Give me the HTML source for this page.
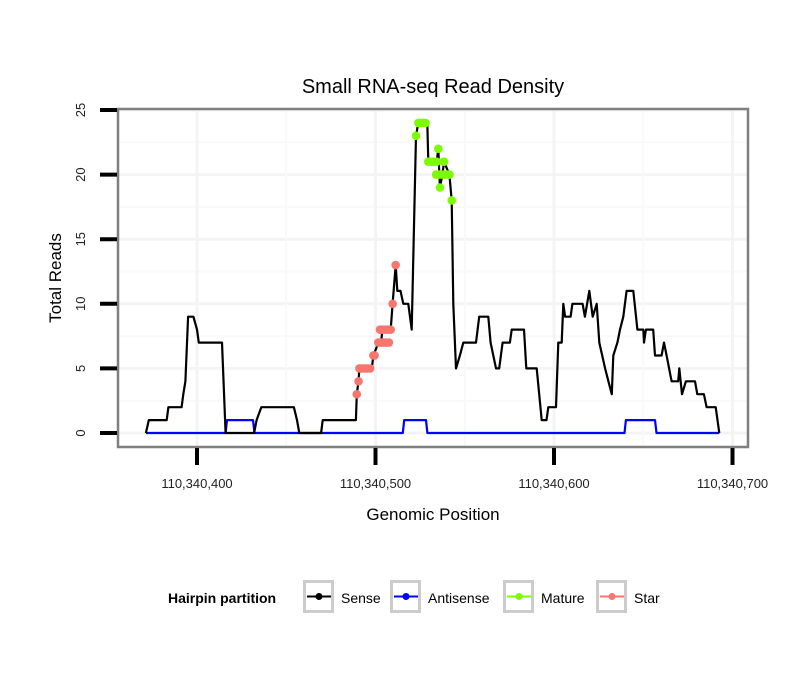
<!DOCTYPE html>
<html><head><meta charset="utf-8"><style>
body{margin:0;background:#fff;}
svg text{font-family:"Liberation Sans",Arial,sans-serif;}
</style></head><body>
<svg id="chart" width="810" height="690" xmlns="http://www.w3.org/2000/svg">
<rect width="810" height="690" fill="#fff"/>
<text x="433" y="93" font-size="20" text-anchor="middle">Small RNA-seq Read Density</text>
<g id="grid"></g>
<g id="series"></g>
<rect x="118" y="109" width="630" height="338" fill="none" stroke="#7f7f7f" stroke-width="2.5"/>
<g id="axes"></g>
<text transform="translate(61,278) rotate(-90)" font-size="17" text-anchor="middle">Total Reads</text>
<text x="433" y="520" font-size="17" text-anchor="middle">Genomic Position</text>
<g id="legend"></g>
</svg>
<script>
const xTicks=[110340400,110340500,110340600,110340700];
const xTickLabels=["110,340,400","110,340,500","110,340,600","110,340,700"];
const yTicks=[0,5,10,15,20,25];
const base=110340000;
const sensePos=[371.4,373,383,384,391.4,392.3,393.5,395,398,400,401,414,416,432,433.4,436,454.3,456,457.3,469.5,470.4,489,489.5,490.5,491,497.9,498.8,501.6,503,504,508.5,509.6,511.3,512.2,514,515.6,518.4,520.3,522.7,524,529,529.6,534.3,535.2,536.1,537.5,538.4,541.4,542.7,543.6,545.1,547.3,549.2,556.3,558.1,563.2,564.5,567.5,569.3,571.2,575.3,576.3,583.2,584.5,590.3,593.1,595.8,596.8,601.1,602.4,604.3,605.2,606.2,609.3,610.3,616,617.3,619.8,621.7,623.9,625.4,627,628.6,630.5,632.4,633.2,635.5,637,638.8,640.7,644.4,646.7,650,650.4,651.5,655.6,656.6,660.3,661.6,663.1,665.9,669.6,670.2,671.7,673.9,679,680.3,684,685.5,690.6,692.6];
const senseVal=[0,1,1,2,2,3,4,9,9,8,7,7,0,0,1,2,2,1,0,0,1,1,3,4,5,5,6,7,7,8,8,10,13,11,11,10,10,8,23,24,24,21,21,22,19,20,21,20,18,10,5,6,7,7,9,9,7,5,5,7,7,8,8,5,5,1,1,2,2,7,7,10,9,9,10,10,9,11,9,10,7,6,5,4,3,6,7,8,9,11,11,8,8,7,8,8,6,6,7,6,4,4,5,3,4,4,3,3,2,2,0];
const antiPos=[371.4,416,416.8,431.4,432.2,515.3,516.1,528.3,529.1,639.5,640.3,656.6,657.4,692.6];
const antiVal=[0,0,1,1,0,0,1,1,0,0,1,1,0,0];
const maturePos=[522.7,524,525,526,527,528,529.6,531,532.5,534.3,535.2,536.1,534,535.5,537,538.5,540,541.4,538.4,542.7];
const matureVal=[23,24,24,24,24,24,21,21,21,21,22,19,20,20,20,20,20,20,21,18];
const starPos=[489.5,490.5,491,492.5,494,495.5,497,498.8,499.5,501.6,503,504.5,506,507.5,502.5,504,505.5,507,508.5,509.6,511.3];
const starVal=[3,4,5,5,5,5,5,6,6,7,7,7,7,7,8,8,8,8,8,10,13];

const NS="http://www.w3.org/2000/svg";
function xs(p){return 197+(p-400)*1.785;}
function xg(g){return xs(g-base);}
function ys(v){return 433-v*12.92;}
function mk(tag,attrs,parent){const e=document.createElementNS(NS,tag);for(const k in attrs)e.setAttribute(k,attrs[k]);parent.appendChild(e);return e;}
const grid=document.getElementById('grid'),axes=document.getElementById('axes'),ser=document.getElementById('series'),leg=document.getElementById('legend');
for(let v=0;v<=25;v+=2.5){const l=mk('line',{x1:118,x2:748,y1:ys(v),y2:ys(v),stroke:v%5===0?'#f4f4f4':'#f9f9f9','stroke-width':v%5===0?3:2},grid);

}
for(let p=350;p<=750;p+=50){const x=xs(p);if(x<118||x>748)continue;const l=mk('line',{x1:x,x2:x,y1:109,y2:447,stroke:p%100===0?'#f4f4f4':'#f9f9f9','stroke-width':p%100===0?3:2},grid);

}
yTicks.forEach(v=>{const t=mk('line',{x1:100,x2:117,y1:ys(v),y2:ys(v),stroke:'#000','stroke-width':4},axes);


const tx=mk('text',{transform:`translate(85,${ys(v)}) rotate(-90)`,'font-size':13,'text-anchor':'middle',fill:'#222'},axes);tx.textContent=v;

});
xTicks.forEach((g,i)=>{const x=xg(g);const t=mk('line',{x1:x,x2:x,y1:448,y2:465,stroke:'#000','stroke-width':4},axes);


const tx=mk('text',{x:x,y:488,'font-size':13,'text-anchor':'middle',fill:'#222'},axes);tx.textContent=xTickLabels[i];

});
function line(pos,val,color,name){const d=pos.map((p,i)=>(i?'L':'M')+xs(p).toFixed(1)+','+ys(val[i]).toFixed(1)).join('');
const e=mk('path',{d:d,fill:'none',stroke:color,'stroke-width':2.2,'stroke-linejoin':'round'},ser);

}
line(antiPos,antiVal,'#0000ff','antisense-line');
line(sensePos,senseVal,'#000','sense-line');
function pts(pos,val,color,name){pos.forEach((p,i)=>{const c=mk('circle',{cx:xs(p),cy:ys(val[i]),r:4.3,fill:color},ser);

});}
pts(starPos,starVal,'#f8766d','star-point');
pts(maturePos,matureVal,'#7cfc00','mature-point');
const lt=mk('text',{x:168,y:603,'font-size':14,'font-weight':'bold'},leg);lt.textContent='Hairpin partition';


const items=[['Sense','#000',303],['Antisense','#0000ff',390],['Mature','#7cfc00',503],['Star','#f8766d',596]];
items.forEach(([lab,col,x])=>{const g=mk('g',{},leg);


mk('rect',{x:x+1.5,y:581.5,width:28,height:30,fill:'#fff',stroke:'#cccccc','stroke-width':3},g);
mk('line',{x1:x+4,x2:x+28,y1:596.5,y2:596.5,stroke:col,'stroke-width':2},g);
mk('circle',{cx:x+16,cy:596.5,r:3.5,fill:col},g);
const t=mk('text',{x:x+38,y:603,'font-size':14},g);t.textContent=lab;});
</script>
</body></html>
